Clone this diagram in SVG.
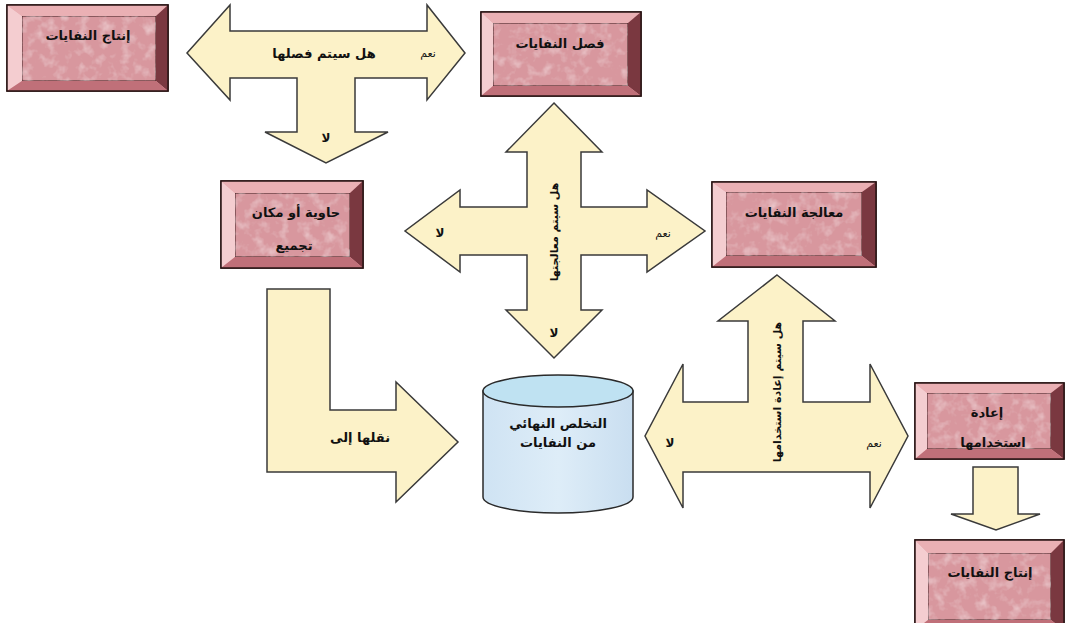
<svg xmlns="http://www.w3.org/2000/svg" width="1068" height="623" viewBox="0 0 1068 623">
<style>
.arrow{fill:#fcf2c8;stroke:#3a3a3a;stroke-width:1.5;stroke-linejoin:miter}
.frame{fill:#e7a9ae;stroke:#2a1414;stroke-width:1.5}
.bl{fill:#f4cdd0}
.bt{fill:#eab0b4}
.br{fill:#7a3840}
.bb{fill:#c07079}
.face{fill:#d8979e;stroke:#3a1c1c;stroke-width:1}
.t{font-family:"DejaVu Sans",sans-serif;font-weight:bold;font-size:13px;fill:#111;text-anchor:middle}
.v{font-family:"DejaVu Sans",sans-serif;font-weight:bold;font-size:11px;fill:#111;text-anchor:middle}
.s{font-family:"DejaVu Sans",sans-serif;font-size:11px;fill:#111;text-anchor:middle}
.sb{font-family:"DejaVu Sans",sans-serif;font-weight:bold;font-size:12px;fill:#111;text-anchor:middle}
</style>
<defs>
<filter id="marble" x="0" y="0" width="100%" height="100%">
<feTurbulence type="fractalNoise" baseFrequency="0.09" numOctaves="3" seed="4" result="n"/>
<feColorMatrix in="n" type="matrix" values="0 0 0 0 1  0 0 0 0 0.88  0 0 0 0 0.9  0 0 0 0.9 -0.42" result="w"/>
<feComposite in="w" in2="SourceGraphic" operator="in" result="wc"/>
<feMerge><feMergeNode in="SourceGraphic"/><feMergeNode in="wc"/></feMerge>
</filter>
<linearGradient id="cyl" x1="0" y1="0" x2="1" y2="0">
<stop offset="0" stop-color="#cfe3f3"/>
<stop offset="0.5" stop-color="#deedf8"/>
<stop offset="1" stop-color="#c9def0"/>
</linearGradient>
</defs>

<g id="connectors">
<polygon id="t-arrow" class="arrow" points="187,53 230,5 230,31 427,31 427,5 465,53 427,100 427,78 355,78 355,132 388,132 326,163 265,132 297,132 297,78 230,78 230,100"/>
<polygon id="cross-arrow" class="arrow" points="554,103 602,152 581,152 581,207 647,207 647,190 705,231 647,272 647,255 581,255 581,310 602,310 554,358 506,310 527,310 527,255 460,255 460,272 405,231 460,190 460,207 527,207 527,152 506,152"/>
<polygon id="reuse-arrow" class="arrow" points="777,275 835,321 803,321 803,402 870,402 870,364 908,436 870,508 870,472 683,472 683,508 645,436 683,364 683,402 748,402 748,321 718,321"/>
<polygon id="l-arrow" class="arrow" points="267,289 330,289 330,410 396,410 396,382 458,442 396,502 396,472 267,472"/>
<polygon id="down-arrow" class="arrow" points="973,467 1018,467 1018,514 1040,514 996,530 951,514 973,514"/>
<text class="t" x="324" y="58">هل سيتم فصلها</text>
<text class="s" x="428" y="57">نعم</text>
<text class="sb" x="326" y="142">لا</text>
<text class="v" transform="translate(554,232) rotate(-90)" y="4">هل سيتم معالجتها</text>
<text class="sb" x="440" y="237">لا</text>
<text class="s" x="663" y="237">نعم</text>
<text class="sb" x="554" y="337">لا</text>
<text class="v" transform="translate(777,392) rotate(-90)" y="4">هل سيتم إعادة استخدامها</text>
<text class="sb" x="670" y="447">لا</text>
<text class="s" x="874" y="447">نعم</text>
<text class="t" x="360" y="442">نقلها إلى</text>
</g>

<g id="box-production-1">
<rect class="frame" x="7" y="5" width="161" height="86"/>
<polygon class="bl" points="7,5 22,16 22,81 7,91"/>
<polygon class="bt" points="7,5 168,5 156,16 22,16"/>
<polygon class="br" points="168,5 168,91 156,81 156,16"/>
<polygon class="bb" points="7,91 22,81 156,81 168,91"/>
<rect class="face" x="22" y="16" width="134" height="65" filter="url(#marble)"/>
<rect x="7" y="5" width="161" height="86" fill="none" stroke="#2a1414" stroke-width="1.5"/>
<text class="t" x="88" y="40">إنتاج النفايات</text>
</g>

<g id="box-separation">
<rect class="frame" x="481" y="12" width="160" height="84"/>
<polygon class="bl" points="481,12 493,23 493,86 481,96"/>
<polygon class="bt" points="481,12 641,12 628,23 493,23"/>
<polygon class="br" points="641,12 641,96 628,86 628,23"/>
<polygon class="bb" points="481,96 493,86 628,86 641,96"/>
<rect class="face" x="493" y="23" width="135" height="63" filter="url(#marble)"/>
<rect x="481" y="12" width="160" height="84" fill="none" stroke="#2a1414" stroke-width="1.5"/>
<text class="t" x="560" y="48">فصل النفايات</text>
</g>

<g id="box-container">
<rect class="frame" x="221" y="181" width="142" height="87"/>
<polygon class="bl" points="221,181 235,193 235,257 221,268"/>
<polygon class="bt" points="221,181 363,181 350,193 235,193"/>
<polygon class="br" points="363,181 363,268 350,257 350,193"/>
<polygon class="bb" points="221,268 235,257 350,257 363,268"/>
<rect class="face" x="235" y="193" width="115" height="64" filter="url(#marble)"/>
<rect x="221" y="181" width="142" height="87" fill="none" stroke="#2a1414" stroke-width="1.5"/>
<text class="t" x="296" y="217">حاوية أو مكان</text>
<text class="t" x="294" y="250">تجميع</text>
</g>

<g id="box-treatment">
<rect class="frame" x="712" y="182" width="164" height="85"/>
<polygon class="bl" points="712,182 726,192 726,256 712,267"/>
<polygon class="bt" points="712,182 876,182 862,192 726,192"/>
<polygon class="br" points="876,182 876,267 862,256 862,192"/>
<polygon class="bb" points="712,267 726,256 862,256 876,267"/>
<rect class="face" x="726" y="192" width="136" height="64" filter="url(#marble)"/>
<rect x="712" y="182" width="164" height="85" fill="none" stroke="#2a1414" stroke-width="1.5"/>
<text class="t" x="794" y="217">معالجة النفايات</text>
</g>

<g id="disposal">
<path d="M483,391 L483,497 A75,16 0 0 0 633,497 L633,391 Z" fill="url(#cyl)" stroke="#2a2a2a" stroke-width="1.5"/>
<ellipse cx="558" cy="391" rx="75" ry="16" fill="#bfe2f2" stroke="#2a2a2a" stroke-width="1.5"/>
<text class="t" x="558" y="428">التخلص النهائي</text>
<text class="t" x="558" y="447">من النفايات</text>
</g>

<g id="box-reuse">
<rect class="frame" x="915" y="383" width="149" height="76"/>
<polygon class="bl" points="915,383 927,393 927,449 915,459"/>
<polygon class="bt" points="915,383 1064,383 1051,393 927,393"/>
<polygon class="br" points="1064,383 1064,459 1051,449 1051,393"/>
<polygon class="bb" points="915,459 927,449 1051,449 1064,459"/>
<rect class="face" x="927" y="393" width="124" height="56" filter="url(#marble)"/>
<rect x="915" y="383" width="149" height="76" fill="none" stroke="#2a1414" stroke-width="1.5"/>
<text class="t" x="987" y="417">إعادة</text>
<text class="t" x="993" y="447">استخدامها</text>
</g>

<g id="box-production-2">
<rect class="frame" x="915" y="540" width="149" height="90"/>
<polygon class="bl" points="915,540 928,553 928,620 915,630"/>
<polygon class="bt" points="915,540 1064,540 1051,553 928,553"/>
<polygon class="br" points="1064,540 1064,630 1051,620 1051,553"/>
<polygon class="bb" points="915,630 928,620 1051,620 1064,630"/>
<rect class="face" x="928" y="553" width="123" height="67" filter="url(#marble)"/>
<rect x="915" y="540" width="149" height="90" fill="none" stroke="#2a1414" stroke-width="1.5"/>
<text class="t" x="990" y="577">إنتاج النفايات</text>
</g>
</svg>
